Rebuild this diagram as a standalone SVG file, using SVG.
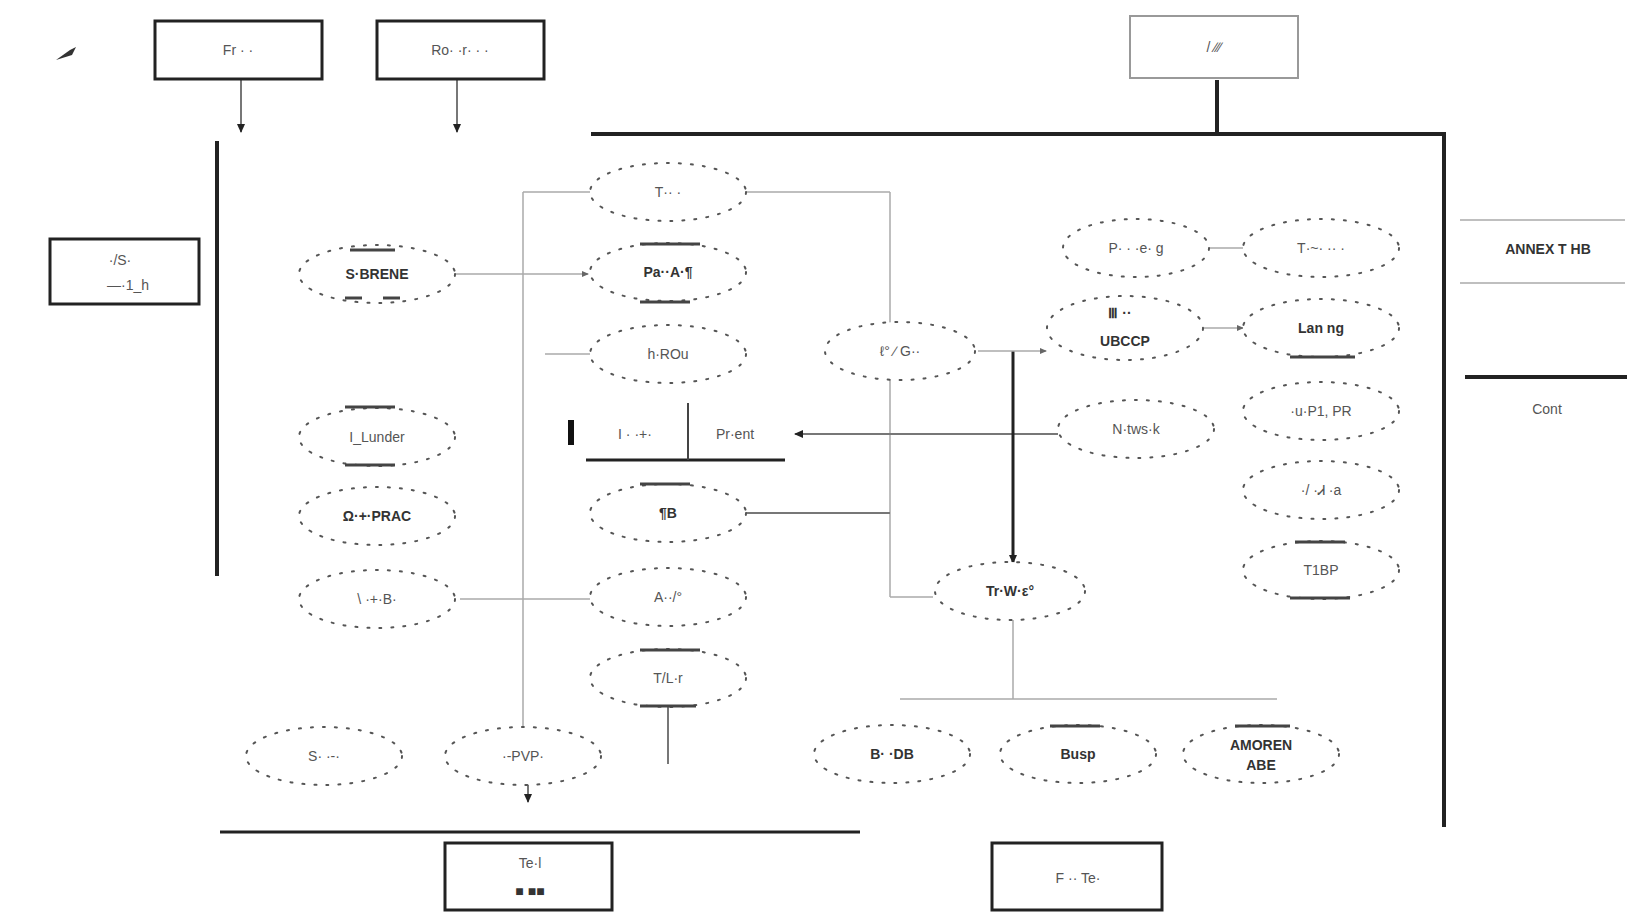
<svg xmlns="http://www.w3.org/2000/svg" width="1641" height="915" viewBox="0 0 1641 915">
<defs>
<marker id="ah" markerWidth="10" markerHeight="10" refX="8" refY="5" orient="auto" markerUnits="userSpaceOnUse"><path d="M0,1 L9,5 L0,9 Z" fill="#222"/></marker>
<marker id="ahs" markerWidth="8" markerHeight="8" refX="6" refY="4" orient="auto" markerUnits="userSpaceOnUse"><path d="M0,1 L7,4 L0,7 Z" fill="#666"/></marker>
</defs>
<style>
.box{fill:#fff;stroke:#222;stroke-width:3}
.boxl{fill:#fff;stroke:#999;stroke-width:2}
.el{fill:#fff;stroke:#555;stroke-width:2;stroke-dasharray:2 10;stroke-linecap:round}
.bar{stroke:#444;stroke-width:3}
.t{font-family:"Liberation Sans",Arial,sans-serif;font-size:14px;fill:#555;text-anchor:middle}
.tb{font-family:"Liberation Sans",Arial,sans-serif;font-size:14px;fill:#333;text-anchor:middle;font-weight:bold}
.thick{stroke:#222;stroke-width:4;fill:none}
.mid{stroke:#777;stroke-width:2;fill:none}
.thin{stroke:#aaa;stroke-width:1.5;fill:none}
</style>
<rect width="1641" height="915" fill="#fff"/>
<g id="connectors">
<line class="thick" x1="591" y1="134" x2="1446" y2="134"/>
<line class="thick" x1="1444" y1="134" x2="1444" y2="827"/>
<line class="thick" x1="217" y1="141" x2="217" y2="576"/>
<line class="thick" x1="1217" y1="80" x2="1217" y2="134"/>
<line class="mid" x1="241" y1="80" x2="241" y2="132" marker-end="url(#ah)"/>
<line class="mid" x1="457" y1="80" x2="457" y2="132" marker-end="url(#ah)"/>
<line class="thick" x1="220" y1="832" x2="860" y2="832" style="stroke-width:3"/>
<line class="thin" x1="523" y1="192" x2="523" y2="735"/>
<line class="thin" x1="523" y1="192" x2="590" y2="192"/>
<line class="thin" x1="455" y1="274" x2="588" y2="274" marker-end="url(#ahs)"/>
<line class="thin" x1="545" y1="354" x2="590" y2="354"/>
<line class="thin" x1="460" y1="599" x2="590" y2="599"/>
<line class="thin" x1="890" y1="192" x2="890" y2="597"/>
<line class="thin" x1="746" y1="192" x2="890" y2="192"/>
<line class="mid" x1="746" y1="513" x2="890" y2="513"/>
<line class="thin" x1="890" y1="597" x2="933" y2="597"/>
<line class="mid" x1="1058" y1="434" x2="795" y2="434" marker-end="url(#ah)"/>
<line class="thick" x1="1013" y1="351" x2="1013" y2="563" style="stroke-width:3" marker-end="url(#ah)"/>
<line class="thin" x1="978" y1="351" x2="1046" y2="351" marker-end="url(#ahs)"/>
<line class="thin" x1="1013" y1="620" x2="1013" y2="699"/>
<line class="thin" x1="900" y1="699" x2="1277" y2="699"/>
<line class="thin" x1="1209" y1="248" x2="1243" y2="248"/>
<line class="thin" x1="1204" y1="328" x2="1243" y2="328" marker-end="url(#ahs)"/>
<line class="mid" x1="668" y1="706" x2="668" y2="764"/>
<line class="mid" x1="528" y1="784" x2="528" y2="802" marker-end="url(#ah)"/>
<line class="thin" x1="1460" y1="220" x2="1625" y2="220"/>
<line class="thin" x1="1460" y1="283" x2="1625" y2="283"/>
<line class="thick" x1="1465" y1="377" x2="1627" y2="377"/>
</g>
<g id="icon"><path d="M56,60 L70,50 L76,47 L72,55 Z" fill="#333"/></g>
<g id="boxA"><rect class="box" x="155" y="21" width="167" height="58"/><text class="t" x="238" y="55">Fr  ·  ·</text></g>
<g id="boxB"><rect class="box" x="377" y="21" width="167" height="58"/><text class="t" x="460" y="55">Ro·  ·r·  ·  ·</text></g>
<g id="boxC"><rect class="boxl" x="1130" y="16" width="168" height="62"/><text class="t" x="1214" y="52">/ ∕∕∕</text></g>
<g id="boxD"><rect class="box" x="50" y="239" width="149" height="65"/><text class="t" x="120" y="265">·/S·</text><text class="t" x="128" y="290">—·1_h</text></g>
<g id="labelR"><text class="tb" x="1548" y="254">ANNEX T HB</text></g>
<g id="labelCont"><text class="t" x="1547" y="414">Cont</text></g>
<g id="boxE"><rect class="box" x="445" y="843" width="167" height="67"/><text class="t" x="530" y="868">Te·l</text><text class="tb" x="530" y="896">■ ■■</text></g>
<g id="boxF"><rect class="box" x="992" y="843" width="170" height="67"/><text class="t" x="1078" y="883">F  ·· Te·</text></g>
<g id="e1"><ellipse class="el" cx="377" cy="274" rx="78" ry="29"/><line class="bar" x1="350" y1="250" x2="395" y2="250"/><line class="bar" x1="345" y1="298" x2="362" y2="298"/><line class="bar" x1="383" y1="298" x2="400" y2="298"/><text class="tb" x="377" y="279">S·BRENE</text></g>
<g id="e2"><ellipse class="el" cx="377" cy="437" rx="78" ry="29"/><line class="bar" x1="345" y1="407" x2="395" y2="407"/><line class="bar" x1="345" y1="465" x2="395" y2="465"/><text class="t" x="377" y="442">I_Lunder</text></g>
<g id="e3"><ellipse class="el" cx="377" cy="516" rx="78" ry="29"/><text class="tb" x="377" y="521">Ω·+·PRAC</text></g>
<g id="e4"><ellipse class="el" cx="377" cy="599" rx="78" ry="29"/><text class="t" x="377" y="604">\ ·+·B·</text></g>
<g id="f1"><ellipse class="el" cx="668" cy="192" rx="78" ry="29"/><text class="t" x="668" y="197">T·· ·</text></g>
<g id="f2"><ellipse class="el" cx="668" cy="272" rx="78" ry="29"/><line class="bar" x1="640" y1="244" x2="700" y2="244"/><line class="bar" x1="640" y1="302" x2="690" y2="302"/><text class="tb" x="668" y="277">Pa··A·¶</text></g>
<g id="f3"><ellipse class="el" cx="668" cy="354" rx="78" ry="29"/><text class="t" x="668" y="359">h·ROu</text></g>
<g id="f4"><rect x="570" y="403" width="215" height="57" fill="#fff"/><line x1="571" y1="420" x2="571" y2="445" stroke="#111" stroke-width="6"/><line class="thick" x1="586" y1="460" x2="785" y2="460" style="stroke-width:3"/><line class="mid" x1="688" y1="403" x2="688" y2="460" style="stroke:#444"/><text class="t" x="635" y="439">I ·  ·+·</text><text class="t" x="735" y="439">Pr·ent</text></g>
<g id="f5"><ellipse class="el" cx="668" cy="513" rx="78" ry="29"/><line class="bar" x1="640" y1="484" x2="690" y2="484"/><text class="tb" x="668" y="518">¶B</text></g>
<g id="f6"><ellipse class="el" cx="668" cy="597" rx="78" ry="29"/><text class="t" x="668" y="602">A··/°</text></g>
<g id="f7"><ellipse class="el" cx="668" cy="678" rx="78" ry="29"/><line class="bar" x1="640" y1="650" x2="700" y2="650"/><line class="bar" x1="640" y1="706" x2="696" y2="706"/><text class="t" x="668" y="683">T/L·r</text></g>
<g id="g1"><ellipse class="el" cx="900" cy="351" rx="75" ry="29"/><text class="t" x="900" y="356">ℓ° ∕ G··</text></g>
<g id="g2"><ellipse class="el" cx="1010" cy="591" rx="75" ry="29"/><text class="tb" x="1010" y="596">Tr·W·ε°</text></g>
<g id="h1"><ellipse class="el" cx="1136" cy="248" rx="73" ry="29"/><text class="t" x="1136" y="253">P· · ·e· g</text></g>
<g id="h2"><ellipse class="el" cx="1125" cy="328" rx="78" ry="32"/><text class="tb" x="1120" y="318">Ⅲ ··</text><text class="tb" x="1125" y="346">UBCCP</text></g>
<g id="h3"><ellipse class="el" cx="1136" cy="429" rx="78" ry="29"/><text class="t" x="1136" y="434">N·tws·k</text></g>
<g id="i1"><ellipse class="el" cx="1321" cy="248" rx="78" ry="29"/><text class="t" x="1321" y="253">T·~· ·· ·</text></g>
<g id="i2"><ellipse class="el" cx="1321" cy="328" rx="78" ry="29"/><line class="bar" x1="1290" y1="357" x2="1355" y2="357"/><text class="tb" x="1321" y="333">Lan ng</text></g>
<g id="i3"><ellipse class="el" cx="1321" cy="411" rx="78" ry="29"/><text class="t" x="1321" y="416">·u·P1, PR</text></g>
<g id="i4"><ellipse class="el" cx="1321" cy="490" rx="78" ry="29"/><text class="t" x="1321" y="495">·/ ·Ꮧ ·a</text></g>
<g id="i5"><ellipse class="el" cx="1321" cy="570" rx="78" ry="29"/><line class="bar" x1="1295" y1="542" x2="1345" y2="542"/><line class="bar" x1="1290" y1="598" x2="1350" y2="598"/><text class="t" x="1321" y="575">T1BP</text></g>
<g id="j1"><ellipse class="el" cx="324" cy="756" rx="78" ry="29"/><text class="t" x="324" y="761">S· ·-·</text></g>
<g id="j2"><ellipse class="el" cx="523" cy="756" rx="78" ry="29"/><text class="t" x="523" y="761">·-PVP·</text></g>
<g id="j3"><ellipse class="el" cx="892" cy="754" rx="78" ry="29"/><text class="tb" x="892" y="759">B· ·DB</text></g>
<g id="j4"><ellipse class="el" cx="1078" cy="754" rx="78" ry="29"/><line class="bar" x1="1050" y1="726" x2="1100" y2="726"/><text class="tb" x="1078" y="759">Busp</text></g>
<g id="j5"><ellipse class="el" cx="1261" cy="754" rx="78" ry="29"/><line class="bar" x1="1235" y1="726" x2="1290" y2="726"/><text class="tb" x="1261" y="750">AMOREN</text><text class="tb" x="1261" y="770">ABE</text></g>
</svg>
